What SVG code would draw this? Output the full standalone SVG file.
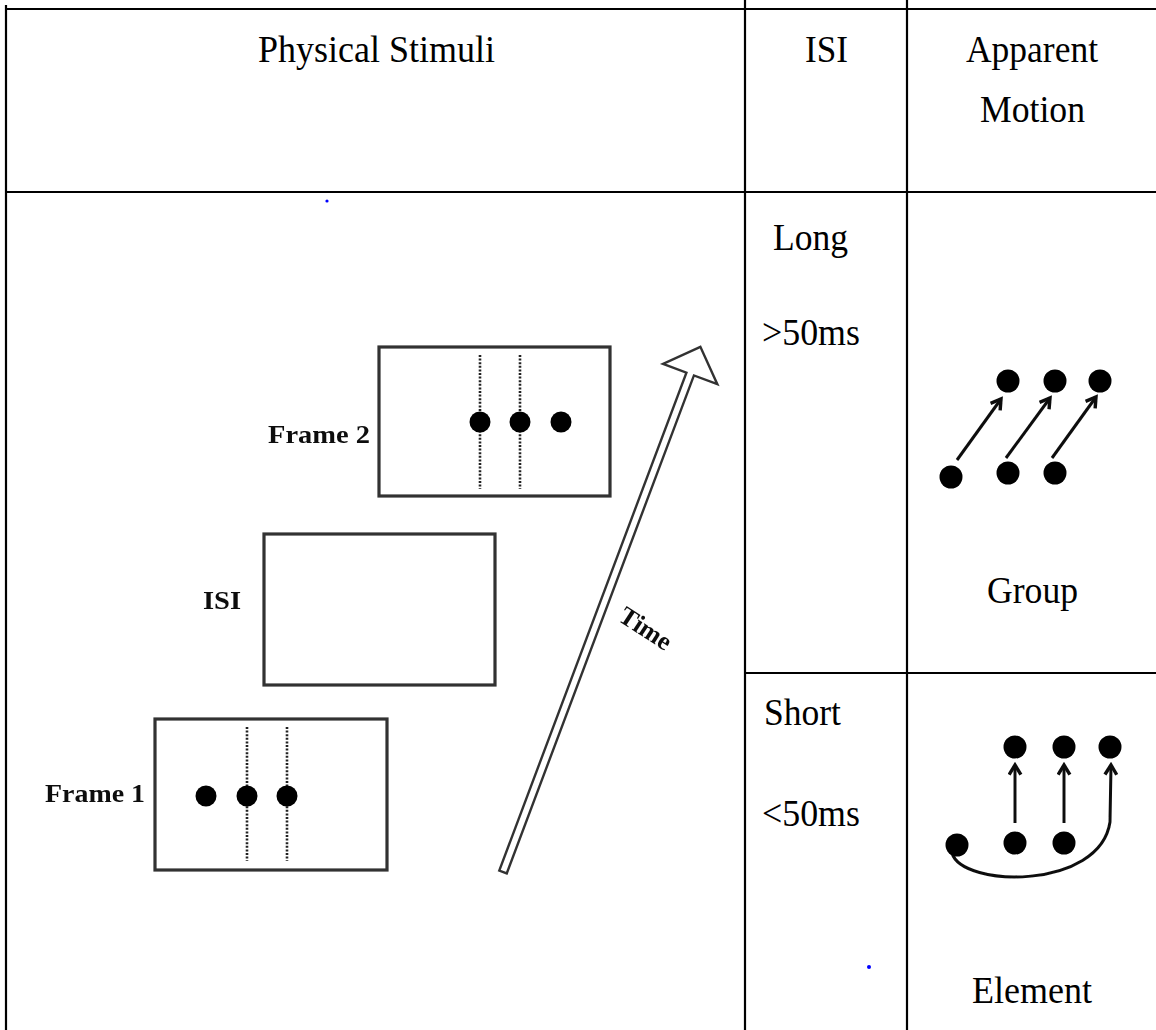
<svg xmlns="http://www.w3.org/2000/svg" width="1156" height="1030" viewBox="0 0 1156 1030">
  <style>
    .grid { stroke: #000; stroke-width: 2.2; fill: none; }
    .hd { font-family: "Liberation Serif", "Times New Roman", serif; font-size: 37px; fill: #000; }
    .lbl { font-family: "Liberation Serif", "Times New Roman", serif; font-size: 26px; font-weight: bold; fill: #111; }
    .frame { fill: #fff; stroke: #333; stroke-width: 3.2; }
    .dash { stroke: #222; stroke-width: 2.6; stroke-dasharray: 2 1.6; }
    .dot { fill: #000; }
    .mv { stroke: #111; stroke-width: 3; fill: none; marker-end: url(#chev); }
  </style>
  <defs>
    <marker id="chev" viewBox="0 0 14 14" refX="11" refY="7" markerWidth="15" markerHeight="15" markerUnits="userSpaceOnUse" orient="auto">
      <path d="M2,1.5 L11,7 L2,12.5" fill="none" stroke="#111" stroke-width="3.2" stroke-linejoin="miter"/>
    </marker>
    <filter id="soft" x="-5%" y="-5%" width="110%" height="110%">
      <feGaussianBlur stdDeviation="0.7"/>
    </filter>
  </defs>
  <rect width="1156" height="1030" fill="#fff"/>

  <!-- table rules -->
  <g id="table">
    <line class="grid" x1="5" y1="9" x2="1156" y2="9" stroke-width="3"/>
    <line class="grid" x1="6" y1="5" x2="6" y2="1030"/>
    <line class="grid" x1="745" y1="0" x2="745" y2="1030"/>
    <line class="grid" x1="907" y1="0" x2="907" y2="1030"/>
    <line class="grid" x1="5" y1="192" x2="1156" y2="192"/>
    <line class="grid" x1="745" y1="673" x2="1156" y2="673"/>
  </g>

  <!-- header and cell texts -->
  <g id="headers">
    <text class="hd" x="258" y="62" textLength="237" lengthAdjust="spacingAndGlyphs">Physical Stimuli</text>
    <text class="hd" x="805" y="62" textLength="43" lengthAdjust="spacingAndGlyphs">ISI</text>
    <text class="hd" x="966" y="62" textLength="132" lengthAdjust="spacingAndGlyphs">Apparent</text>
    <text class="hd" x="980" y="122" textLength="105" lengthAdjust="spacingAndGlyphs">Motion</text>
  </g>
  <g id="isi-long">
    <text class="hd" x="773" y="250" textLength="75" lengthAdjust="spacingAndGlyphs">Long</text>
    <text class="hd" x="762" y="345" textLength="98" lengthAdjust="spacingAndGlyphs">&gt;50ms</text>
  </g>
  <g id="isi-short">
    <text class="hd" x="764" y="725" textLength="77" lengthAdjust="spacingAndGlyphs">Short</text>
    <text class="hd" x="762" y="826" textLength="98" lengthAdjust="spacingAndGlyphs">&lt;50ms</text>
  </g>

  <!-- stimulus sequence -->
  <g id="stimuli" filter="url(#soft)">
    <g id="frame2">
      <rect class="frame" x="379" y="347" width="231" height="149"/>
      <line class="dash" x1="480" y1="355" x2="480" y2="489"/>
      <line class="dash" x1="520" y1="355" x2="520" y2="489"/>
      <circle class="dot" cx="480" cy="422" r="10.5"/>
      <circle class="dot" cx="520" cy="422" r="10.5"/>
      <circle class="dot" cx="561" cy="422" r="10.5"/>
      <text class="lbl" x="268" y="443" textLength="102" lengthAdjust="spacingAndGlyphs">Frame 2</text>
    </g>
    <g id="isi-frame">
      <rect class="frame" x="264" y="534" width="231" height="151"/>
      <text class="lbl" x="203" y="609" textLength="38" lengthAdjust="spacingAndGlyphs">ISI</text>
    </g>
    <g id="frame1">
      <rect class="frame" x="155" y="719" width="232" height="151"/>
      <line class="dash" x1="247" y1="727" x2="247" y2="861"/>
      <line class="dash" x1="287" y1="727" x2="287" y2="861"/>
      <circle class="dot" cx="206" cy="796" r="10.5"/>
      <circle class="dot" cx="247" cy="796" r="10.5"/>
      <circle class="dot" cx="287" cy="796" r="10.5"/>
      <text class="lbl" x="45" y="802" textLength="100" lengthAdjust="spacingAndGlyphs">Frame 1</text>
    </g>
    <g id="time-arrow">
      <polygon transform="translate(503,872) rotate(-69.4)" points="0,-4 532,-4 532,-29 561,0 532,29 532,4 0,4" fill="#fff" stroke="#333" stroke-width="2.4" stroke-linejoin="miter"/>
      <text class="lbl" font-size="23" transform="translate(617,620) rotate(33)">Time</text>
    </g>
  </g>

  <!-- group motion -->
  <g id="group-motion" filter="url(#soft)">
    <circle class="dot" cx="1008" cy="381" r="11.5"/>
    <circle class="dot" cx="1055" cy="381" r="11.5"/>
    <circle class="dot" cx="1100" cy="381" r="11.5"/>
    <circle class="dot" cx="951" cy="477" r="11.5"/>
    <circle class="dot" cx="1008" cy="473" r="11.5"/>
    <circle class="dot" cx="1055" cy="473" r="11.5"/>
  </g>
  <g id="connectors" filter="url(#soft)">
    <line class="mv" x1="957" y1="460" x2="1001" y2="399"/>
    <line class="mv" x1="1006" y1="458" x2="1050" y2="398"/>
    <line class="mv" x1="1052" y1="458" x2="1096" y2="397"/>
    <line class="mv" x1="1015" y1="823" x2="1015" y2="765"/>
    <line class="mv" x1="1064" y1="823" x2="1064" y2="765"/>
    <path class="mv" d="M952,853 C962,888 1100,890 1110,822 L1111,765"/>
  </g>
  <g id="group-label">
    <text class="hd" x="987" y="603" textLength="91" lengthAdjust="spacingAndGlyphs">Group</text>
  </g>

  <!-- element motion -->
  <g id="element-motion" filter="url(#soft)">
    <circle class="dot" cx="1015" cy="747" r="11.5"/>
    <circle class="dot" cx="1064" cy="747" r="11.5"/>
    <circle class="dot" cx="1110" cy="747" r="11.5"/>
    <circle class="dot" cx="957" cy="845" r="11.5"/>
    <circle class="dot" cx="1015" cy="843" r="11.5"/>
    <circle class="dot" cx="1064" cy="843" r="11.5"/>
  </g>
  <g id="element-label">
    <text class="hd" x="972" y="1003" textLength="120" lengthAdjust="spacingAndGlyphs">Element</text>
  </g>

  <!-- stray marks -->
  <circle cx="327" cy="201" r="1.6" fill="#00f"/>
  <circle cx="869" cy="967" r="2" fill="#00f"/>
</svg>
